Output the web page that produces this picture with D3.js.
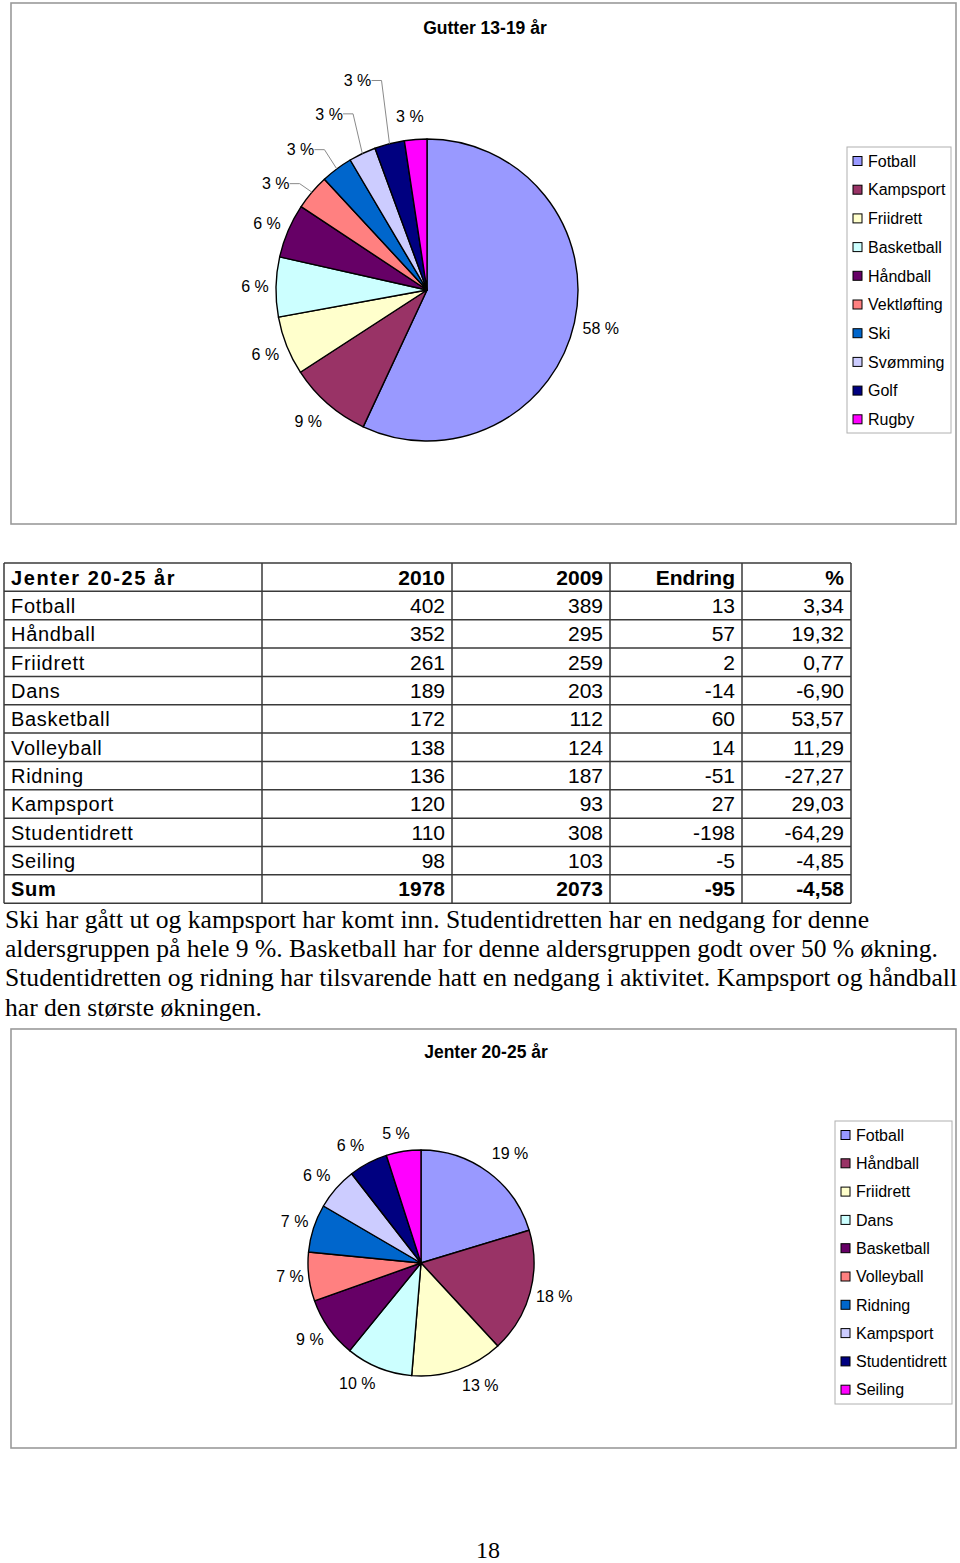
<!DOCTYPE html>
<html><head><meta charset="utf-8">
<script src="https://cdn.jsdelivr.net/npm/d3@7"></script>
<style>body{margin:0;background:#fff}svg{display:block}</style>
</head><body>
<script>
// ---------- DATA ----------
const boysTitle = "Gutter 13-19 år";
const boysCategories = ["Fotball","Kampsport","Friidrett","Basketball","Håndball","Vektløfting","Ski","Svømming","Golf","Rugby"];
const boysShares = [57.0, 8.9, 6.3, 6.4, 5.8, 3.8, 3.4, 2.9, 3.2, 2.4];
const boysLabels = ["58 %","9 %","6 %","6 %","6 %","3 %","3 %","3 %","3 %","3 %"];

const tableTitle = "Jenter 20-25 år";
const tableHeaders = ["2010","2009","Endring","%"];
const girlsCategories = ["Fotball","Håndball","Friidrett","Dans","Basketball","Volleyball","Ridning","Kampsport","Studentidrett","Seiling"];
const girls2010 = [402,352,261,189,172,138,136,120,110,98];
const girls2009 = [389,295,259,203,112,124,187,93,308,103];
const girlsChange = [13,57,2,-14,60,14,-51,27,-198,-5];
const girlsPct = ["3,34","19,32","0,77","-6,90","53,57","11,29","-27,27","29,03","-64,29","-4,85"];
const sumRow = ["Sum","1978","2073","-95","-4,58"];

const girlsTitle = "Jenter 20-25 år";
const girlsLabels = ["19 %","18 %","13 %","10 %","9 %","7 %","7 %","6 %","6 %","5 %"];

const paragraph = [
  "Ski har gått ut og kampsport har komt inn. Studentidretten har en nedgang for denne",
  "aldersgruppen på hele 9 %. Basketball har for denne aldersgruppen godt over 50 % økning.",
  "Studentidretten og ridning har tilsvarende hatt en nedgang i aktivitet. Kampsport og håndball",
  "har den største økningen."
];
const pageNumber = "18";

// ---------- STYLE / LAYOUT ----------
const palette = ["#9999FF","#993366","#FFFFCC","#CCFFFF","#660066","#FF8080","#0066CC","#CCCCFF","#000080","#FF00FF"];
const chartFont = "'Liberation Sans', Arial, sans-serif";
const serifFont = "'Liberation Serif', 'Times New Roman', serif";

const W = 960, H = 1563;
const svg = d3.select("body").append("svg").attr("width", W).attr("height", H);
svg.append("rect").attr("width", W).attr("height", H).attr("fill", "#fff");

function frame(x, y, w, h) {
  svg.append("rect").attr("x", x).attr("y", y).attr("width", w).attr("height", h)
    .attr("fill", "#fff").attr("stroke", "#9a9a9a").attr("stroke-width", 1.6);
}

function pieChart(opt) {
  const g = svg.append("g");
  g.append("text").attr("x", opt.titleX).attr("y", opt.titleY).attr("text-anchor", "middle")
    .attr("font-family", chartFont).attr("font-weight", "bold").attr("font-size", 17.5).text(opt.title);

  const pie = d3.pie().sort(null).value(d => d)(opt.values);
  const arc = d3.arc().innerRadius(0).outerRadius(opt.r);
  const pg = g.append("g").attr("transform", `translate(${opt.cx},${opt.cy})`);
  pg.selectAll("path").data(pie).join("path")
    .attr("d", arc).attr("fill", (d, i) => palette[i])
    .attr("stroke", "#000").attr("stroke-width", 1.4).attr("stroke-linejoin", "round");

  const labelArc = d3.arc().innerRadius(opt.r + opt.labelGap).outerRadius(opt.r + opt.labelGap);
  const edgeArc = d3.arc().innerRadius(opt.r).outerRadius(opt.r);
  pie.forEach((d, i) => {
    const c = labelArc.centroid(d);
    const n = opt.nudge[i] || [0, 0];
    const lx = c[0] + n[0], ly = c[1] + n[1];
    if (opt.leader[i]) {
      const e = edgeArc.centroid(d);
      pg.append("polyline")
        .attr("points", `${lx + 14},${ly} ${lx + 24},${ly} ${e[0]},${e[1]}`)
        .attr("fill", "none").attr("stroke", "#8a8a8a").attr("stroke-width", 1);
    }
    pg.append("text").attr("x", lx).attr("y", ly).attr("dy", "0.36em")
      .attr("text-anchor", "middle").attr("font-family", chartFont).attr("font-size", 16)
      .text(opt.labels[i]);
  });

  // legend
  const lg = g.append("g");
  lg.append("rect").attr("x", opt.legX).attr("y", opt.legY).attr("width", opt.legW).attr("height", opt.legH)
    .attr("fill", "#fff").attr("stroke", "#b0b0b0").attr("stroke-width", 1);
  const ly = d3.scalePoint().domain(opt.categories).range([opt.legItem0, opt.legItem0 + opt.legStep * (opt.categories.length - 1)]);
  opt.categories.forEach((c, i) => {
    lg.append("rect").attr("x", opt.legX + 6).attr("y", ly(c) - 4.5).attr("width", 9).attr("height", 9)
      .attr("fill", palette[i]).attr("stroke", "#000").attr("stroke-width", 1);
    lg.append("text").attr("x", opt.legX + 21).attr("y", ly(c)).attr("dy", "0.36em")
      .attr("font-family", chartFont).attr("font-size", 16).text(c);
  });
}

// ---- Top chart ----
frame(11, 3, 945, 521);
pieChart({
  title: boysTitle, titleX: 485, titleY: 34,
  values: boysShares, labels: boysLabels, categories: boysCategories,
  cx: 427, cy: 290, r: 151, labelGap: 24,
  nudge: [[3,0],[-4,-1],[1,0],[3,0],[1,2],[-18,7],[-22,0],[-23,-18],[-26,-40],[-4,1]],
  leader: [false,false,false,false,false,true,true,true,true,false],
  legX: 847, legY: 147, legW: 104, legH: 286, legItem0: 161, legStep: 28.7
});

// ---- Table ----
const colEdges = [4, 262, 452, 610, 742, 851];
const rowTop = 563, rowH = 28.35;
const tableRows = [[tableTitle, ...tableHeaders]]
  .concat(girlsCategories.map((c, i) => [c, String(girls2010[i]), String(girls2009[i]), String(girlsChange[i]), girlsPct[i]]))
  .concat([sumRow]);
const nRows = tableRows.length;
const tg = svg.append("g");
const rowY = d3.scaleLinear().domain([0, nRows]).range([rowTop, rowTop + rowH * nRows]);
tableRows.forEach((row, ri) => {
  const bold = ri === 0 || ri === nRows - 1;
  row.forEach((cell, ci) => {
    const t = tg.append("text").attr("y", rowY(ri) + 21.5)
      .attr("font-family", chartFont).attr("font-size", ci === 0 ? 20 : 21)
      .attr("font-weight", bold ? "bold" : "normal").text(cell);
    if (ci === 0) {
      t.attr("x", colEdges[0] + 7).attr("letter-spacing", ri === 0 ? 1.6 : 0.7);
    } else {
      t.attr("x", colEdges[ci + 1] - 7).attr("text-anchor", "end");
    }
  });
});
for (let r = 0; r <= nRows; r++) {
  tg.append("line").attr("x1", colEdges[0]).attr("x2", colEdges[colEdges.length - 1])
    .attr("y1", rowY(r)).attr("y2", rowY(r)).attr("stroke", "#3a3a3a").attr("stroke-width", 1.5);
}
colEdges.forEach(x => {
  tg.append("line").attr("x1", x).attr("x2", x).attr("y1", rowY(0)).attr("y2", rowY(nRows))
    .attr("stroke", "#3a3a3a").attr("stroke-width", 1.5);
});

// ---- Paragraph ----
const paraWidths = [864, 933, 952, 257];
paragraph.forEach((line, i) => {
  svg.append("text").attr("x", 5).attr("y", 928 + i * 29.2)
    .attr("font-family", serifFont).attr("font-size", 25)
    .attr("textLength", paraWidths[i]).attr("lengthAdjust", "spacingAndGlyphs").text(line);
});

// ---- Bottom chart ----
frame(11, 1029, 945, 419);
pieChart({
  title: girlsTitle, titleX: 486, titleY: 1058,
  values: girls2010, labels: girlsLabels, categories: girlsCategories,
  cx: 421, cy: 1263, r: 113, labelGap: 23,
  nudge: [[8,-1],[2,-2],[15,-6],[-13,-6],[0,-2],[4,-3],[3,0],[-2,2],[-7,2],[-4,5]],
  leader: [false,false,false,false,false,false,false,false,false,false],
  legX: 835, legY: 1121, legW: 117, legH: 283, legItem0: 1135, legStep: 28.3
});

// ---- Page number ----
svg.append("text").attr("x", 488).attr("y", 1558).attr("text-anchor", "middle")
  .attr("font-family", serifFont).attr("font-size", 24).text(pageNumber);
</script>
</body></html>
